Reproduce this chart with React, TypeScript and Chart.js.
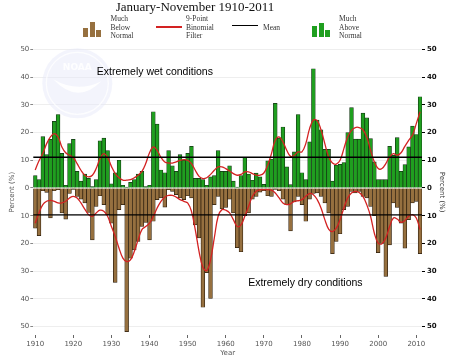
import React, { useEffect, useRef } from "react";
import { Chart, registerables } from "chart.js";

Chart.register(...registerables);

const years = [
  1910, 1911, 1912, 1913, 1914, 1915, 1916, 1917, 1918, 1919,
  1920, 1921, 1922, 1923, 1924, 1925, 1926, 1927, 1928, 1929,
  1930, 1931, 1932, 1933, 1934, 1935, 1936, 1937, 1938, 1939,
  1940, 1941, 1942, 1943, 1944, 1945, 1946, 1947, 1948, 1949,
  1950, 1951, 1952, 1953, 1954, 1955, 1956, 1957, 1958, 1959,
  1960, 1961, 1962, 1963, 1964, 1965, 1966, 1967, 1968, 1969,
  1970, 1971, 1972, 1973, 1974, 1975, 1976, 1977, 1978, 1979,
  1980, 1981, 1982, 1983, 1984, 1985, 1986, 1987, 1988, 1989,
  1990, 1991, 1992, 1993, 1994, 1995, 1996, 1997, 1998, 1999,
  2000, 2001, 2002, 2003, 2004, 2005, 2006, 2007, 2008, 2009,
  2010, 2011,
];

// Percent of area much above normal (green, upward)
const muchAbove = [
  4.5, 3, 18.5, 12, 17.5, 24, 26.5, 12.5, 1, 16,
  17.5, 6, 2.5, 5, 3.5, 0.5, 3, 17, 18, 13.5,
  1.5, 5.5, 10, 1, 0.3, 2, 3, 5, 6, 0.5,
  1, 27.5, 23, 6.5, 5.5, 13.5, 8, 6, 12, 10,
  12.5, 15, 3.5, 3.5, 3, 1, 4, 4.5, 13.5, 6,
  6, 8, 2.5, 0.3, 4.5, 11, 5, 2.8, 5.4, 4,
  1.3, 9.8, 10.4, 30.5, 18, 22, 7.6, 1.2, 13, 26.5,
  5.5, 3, 16.6, 43, 24.5, 21, 13.9, 13.9, 2.5, 8.2,
  8.5, 9.2, 20, 29, 17.6, 17.6, 27, 25.3, 17.8, 9.4,
  3, 3, 3, 15, 11.8, 18.2, 6, 8.4, 14.8, 22.3,
  19.3, 32.9,
];

// Percent of area much below normal (brown, downward; magnitudes)
const muchBelow = [
  14.5, 17.2, 1, 1.6, 10.8, 1, 0.6, 9, 11.2, 2,
  0.5, 3, 4, 5.4, 8.8, 18.7, 6.6, 2.8, 6, 9.6,
  12.7, 34, 7.8, 6, 51.8, 25.3, 22.3, 19.3, 13.9, 12.4,
  18.7, 12, 4.2, 3.6, 6.9, 0.6, 1.2, 2.4, 3.6, 4.2,
  2.8, 3.6, 13.3, 18, 43, 30.5, 39.8, 6, 3, 7.5,
  7, 4, 9, 21.5, 23, 10, 9, 4, 3, 1.5,
  1, 2.8, 3, 0.5, 1, 4, 6, 15.5, 5, 3,
  6, 12, 4, 2, 1.8, 3, 5.4, 9, 23.7, 19.3,
  16.5, 7.8, 6.6, 1.2, 1.8, 1.2, 3, 3.6, 6.6, 10,
  23.3, 20, 31.9, 20.5, 5.4, 7, 12.7, 21.7, 11.4, 5.4,
  4.8, 23.7,
];

// 9-point binomial filter, much above normal
const filterAbove = [
  6.5, 9.8, 12.4, 16, 18.4, 19.6, 18.4, 14.8, 12.7, 11.8,
  11, 8.8, 6.4, 4.6, 4, 4.6, 7, 10.6, 12.4, 11,
  7.8, 5.2, 3.7, 2.8, 2.8, 3, 3.7, 4.6, 6, 8.8,
  12.7, 14.8, 13.6, 11, 9.4, 9, 9, 9.4, 10, 10.2,
  10, 8.8, 6.4, 4.2, 3.4, 3.7, 4.9, 6.4, 7.6, 7.6,
  7, 6.1, 5.2, 4.6, 4.9, 5.8, 5.8, 5.2, 4.6, 4.6,
  5.4, 8.2, 12.4, 17.2, 18.4, 16.6, 13.6, 11.4, 11.8, 13,
  13, 16, 21.4, 24.5, 24.3, 21, 16, 11.2, 9, 8.6,
  10, 14.2, 18.4, 20.8, 21.8, 21.8, 21, 18.4, 13.6, 9.4,
  7, 7, 8.8, 11.2, 12.4, 11.8, 12.7, 15, 17.2, 19,
  23.2, 27.5,
];

// 9-point binomial filter, much below normal (magnitudes)
const filterBelow = [
  12.7, 9, 6, 4.8, 4.5, 4.8, 5.4, 5.4, 4.8, 3.6,
  3, 3.6, 5.4, 7.6, 9.6, 10.2, 9, 8, 8.4, 10.2,
  13.9, 17.5, 21.7, 25.3, 26.5, 25.9, 22.9, 18.7, 15, 13.9,
  12.7, 10.2, 7.2, 4.8, 3.3, 2.7, 2.7, 3.3, 4.2, 4.8,
  5.4, 8.4, 15, 22.9, 28.6, 29.8, 25.9, 18, 10.2, 7.8,
  8, 9, 11.4, 13.9, 13.3, 10.2, 6.6, 3, 1.2, 0.6,
  0.6, 0.6, 0.8, 1.8, 3.6, 5.4, 6, 5.7, 4.8, 4.6,
  4.2, 3, 2, 2.4, 4.2, 7.2, 11.4, 14.8, 15.7, 14.5,
  11.4, 7.2, 3.6, 1.8, 1.2, 1.6, 3, 6, 10.2, 16.3,
  19.9, 20.1, 18, 13.9, 10.8, 11.2, 12.4, 11.7, 10.2, 9.6,
  10.8, 15,
];

const meanAbove = 11.1;
const meanBelow = 9.7;

const xTicks = [1910, 1920, 1930, 1940, 1950, 1960, 1970, 1980, 1990, 2000, 2010];
const yTicks = [-50, -40, -30, -20, -10, 0, 10, 20, 30, 40, 50];

const GREEN = "#1f9f1f";
const BROWN = "#96703f";
const RED = "#d32222";

const overlay = {
  id: "overlay",
  beforeDatasetsDraw(chart: any) {
    const { ctx, chartArea } = chart;
    const cx = chartArea.left + 44;
    const cy = chartArea.top + 34;
    ctx.save();
    ctx.beginPath();
    ctx.arc(cx, cy, 35, 0, Math.PI * 2);
    ctx.fillStyle = "rgba(228,231,248,0.45)";
    ctx.fill();
    ctx.beginPath();
    ctx.arc(cx, cy, 31, 0, Math.PI * 2);
    ctx.strokeStyle = "rgba(255,255,255,0.8)";
    ctx.lineWidth = 1.2;
    ctx.stroke();
    ctx.fillStyle = "rgba(255,255,255,0.9)";
    ctx.font = "bold 9px 'DejaVu Sans'";
    ctx.textAlign = "center";
    ctx.textBaseline = "middle";
    ctx.fillText("NOAA", cx, cy - 16);
    ctx.beginPath();
    ctx.moveTo(cx - 24, cy - 4);
    ctx.quadraticCurveTo(cx, cy + 22, cx + 24, cy - 2);
    ctx.quadraticCurveTo(cx, cy + 10, cx - 24, cy - 4);
    ctx.fill();
    ctx.restore();
  },
  afterDatasetsDraw(chart: any) {
    const { ctx, chartArea, scales } = chart;
    const y = scales.y;
    ctx.save();
    ctx.strokeStyle = "#000";
    ctx.lineWidth = 1.4;
    [meanAbove, -meanBelow].forEach((m) => {
      const py = y.getPixelForValue(m);
      ctx.beginPath();
      ctx.moveTo(chartArea.left, py);
      ctx.lineTo(chartArea.right, py);
      ctx.stroke();
    });
    ctx.fillStyle = "#000";
    ctx.font = "10.5px 'Liberation Sans'";
    ctx.textAlign = "center";
    ctx.textBaseline = "middle";
    const x = scales.x;
    ctx.fillText("Extremely wet conditions", x.getPixelForValue(1941.4), y.getPixelForValue(41.8));
    ctx.fillText("Extremely dry conditions", x.getPixelForValue(1980.9), y.getPixelForValue(-34.2));
    ctx.restore();
  },
};

function LegendText({ lines, left }: { lines: string[]; left: number }) {
  return (
    <div
      style={{
        position: "absolute",
        left,
        top: 15,
        fontFamily: "'Liberation Serif', serif",
        fontSize: 7.5,
        lineHeight: "8.6px",
        color: "#333",
        whiteSpace: "nowrap",
      }}
    >
      {lines.map((l) => (
        <div key={l}>{l}</div>
      ))}
    </div>
  );
}

function BarIcon({ left, color, heights }: { left: number; color: string; heights: number[] }) {
  return (
    <div style={{ position: "absolute", left, top: 21, width: 20, height: 16 }}>
      {heights.map((h, i) => (
        <div
          key={i}
          style={{
            position: "absolute",
            left: i * 6.5,
            bottom: 0,
            width: 5,
            height: h,
            background: color,
          }}
        />
      ))}
    </div>
  );
}

export default function App() {
  const ref = useRef<HTMLCanvasElement>(null);

  useEffect(() => {
    const canvas = ref.current;
    if (!canvas) return;
    const pts = (vals: number[], sign: number) => years.map((yr, i) => ({ x: yr, y: sign * vals[i] }));
    const tickFont = { family: "'DejaVu Sans'", size: 7 };
    const chart = new Chart(canvas, {
      type: "bar",
      data: {
        datasets: [
          {
            type: "line",
            data: pts(filterAbove, 1),
            borderColor: RED,
            borderWidth: 1.3,
            pointRadius: 0,
            tension: 0.4,
            order: 0,
          } as any,
          {
            type: "line",
            data: pts(filterBelow, -1),
            borderColor: RED,
            borderWidth: 1.3,
            pointRadius: 0,
            tension: 0.4,
            order: 0,
          } as any,
          {
            type: "bar",
            data: pts(muchAbove, 1),
            backgroundColor: GREEN,
            borderColor: "#143214",
            borderWidth: 0.7,
            barPercentage: 1,
            categoryPercentage: 1,
            grouped: false,
            order: 2,
          } as any,
          {
            type: "bar",
            data: pts(muchBelow, -1),
            backgroundColor: BROWN,
            borderColor: "#2a1c0c",
            borderWidth: 0.7,
            barPercentage: 1,
            categoryPercentage: 1,
            grouped: false,
            order: 2,
          } as any,
        ],
      },
      options: {
        animation: false,
        responsive: false,
        layout: { padding: { top: 49.3, left: 0, right: 0, bottom: 0 } },
        plugins: { legend: { display: false }, tooltip: { enabled: false }, title: { display: false } },
        scales: {
          x: {
            type: "linear",
            offset: false,
            min: 1909.5,
            max: 2011.5,
            afterBuildTicks: (s: any) => {
              s.ticks = xTicks.map((v) => ({ value: v }));
            },
            afterFit: (s: any) => {
              s.height = 23;
            },
            grid: { offset: false, drawOnChartArea: false, drawTicks: true, tickLength: 3, tickColor: "#666" },
            border: { display: false },
            ticks: { font: tickFont, color: "#555", padding: 2, maxRotation: 0, autoSkip: false, callback: (v: any) => String(v) },
            title: { display: true, text: "Year", font: tickFont, color: "#555", padding: { top: 1, bottom: 1 } },
          },
          y: {
            type: "linear",
            position: "left",
            min: -53,
            max: 50,
            afterBuildTicks: (s: any) => {
              s.ticks = yTicks.map((v) => ({ value: v }));
            },
            afterFit: (s: any) => {
              s.width = 33.3;
            },
            grid: { color: "#eeeeee", lineWidth: 1, tickColor: "#888", tickLength: 3 },
            border: { display: false },
            ticks: { font: tickFont, color: "#555", padding: 1, callback: (v: any) => String(Math.abs(Number(v))) },
            title: { display: true, text: "Percent (%)", font: tickFont, color: "#555", padding: { top: 8.3, bottom: 0 } },
          },
          y2: {
            type: "linear",
            position: "right",
            min: -53,
            max: 50,
            afterBuildTicks: (s: any) => {
              s.ticks = yTicks.map((v) => ({ value: v }));
            },
            afterFit: (s: any) => {
              s.width = 30;
            },
            grid: { drawOnChartArea: false, tickColor: "#000", tickLength: 3 },
            border: { display: false },
            ticks: {
              font: { family: "'DejaVu Sans'", size: 7, weight: "bold" },
              color: "#111",
              padding: 2,
              callback: (v: any) => String(Math.abs(Number(v))),
            },
            title: { display: true, text: "Percent (%)", font: tickFont, color: "#333", padding: { top: 5.8, bottom: 0 } },
          },
        },
      } as any,
      plugins: [overlay],
    });
    return () => chart.destroy();
  }, []);

  return (
    <div style={{ position: "absolute", left: 0, top: 0, width: 452, height: 358, background: "#fff", overflow: "hidden" }}>
      <canvas ref={ref} width={452} height={358} style={{ position: "absolute", left: 0, top: 0 }} />
      <div
        style={{
          position: "absolute",
          left: 0,
          top: 0,
          width: 390,
          textAlign: "center",
          fontFamily: "'Liberation Serif', serif",
          fontSize: 13,
          lineHeight: "14px",
          color: "#111",
        }}
      >
        January-November 1910-2011
      </div>
      <BarIcon left={83} color={BROWN} heights={[9, 15, 7]} />
      <LegendText left={110.5} lines={["Much", "Below", "Normal"]} />
      <div style={{ position: "absolute", left: 156, top: 26, width: 26, height: 1.5, background: RED }} />
      <LegendText left={186} lines={["9-Point", "Binomial", "Filter"]} />
      <div style={{ position: "absolute", left: 232, top: 24.5, width: 26, height: 1.5, background: "#000" }} />
      <div
        style={{
          position: "absolute",
          left: 263,
          top: 24,
          fontFamily: "'Liberation Serif', serif",
          fontSize: 7.5,
          lineHeight: "8.6px",
          color: "#333",
        }}
      >
        Mean
      </div>
      <BarIcon left={312} color={GREEN} heights={[11, 14, 7]} />
      <LegendText left={339} lines={["Much", "Above", "Normal"]} />
    </div>
  );
}
